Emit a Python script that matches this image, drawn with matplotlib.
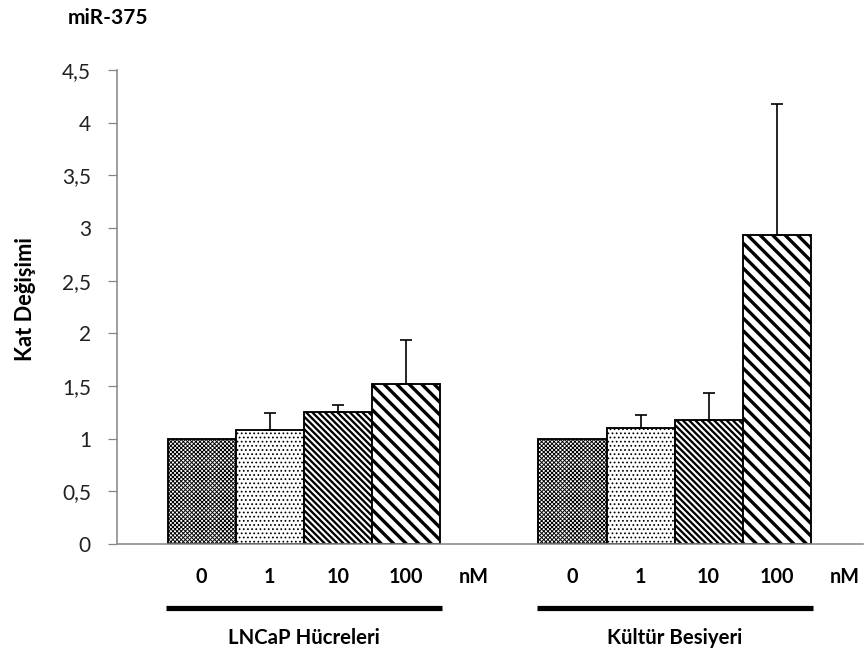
import numpy as np
import matplotlib
matplotlib.use("Agg")
import matplotlib.pyplot as plt

# data
doses = ["0", "1", "10", "100"]
groups = ["LNCaP Hücreleri", "Kültür Besiyeri"]
lncap_mean = [1.0, 1.08, 1.25, 1.52]
lncap_err = [0.0, 0.16, 0.07, 0.42]
medium_mean = [1.0, 1.10, 1.18, 2.93]
medium_err = [0.0, 0.12, 0.25, 1.25]
yticks = [0, 0.5, 1, 1.5, 2, 2.5, 3, 3.5, 4, 4.5]

hatches = ["xxxxxx", "...", "\\\\\\\\", "\\\\"]
hatch_lw = [0.9, 1.0, 2.2, 3.2]
group_start = [0.0, 5.45]

plt.rcParams["font.family"] = ["Lato", "DejaVu Sans"]
DPI = 75
fig = plt.figure(figsize=(867 / DPI, 660 / DPI), dpi=DPI)
ax = fig.add_axes([117 / 867, 116 / 660, (863 - 117) / 867, 474 / 660])

means = [lncap_mean, medium_mean]
errs = [lncap_err, medium_err]
for g in range(2):
    xs = group_start[g] + np.arange(len(doses))
    for i in range(len(doses)):
        plt.rcParams["hatch.linewidth"] = hatch_lw[i]
        ax.bar(xs[i], means[g][i], width=1.0, color="white", edgecolor="black",
               linewidth=1.8, hatch=hatches[i], zorder=2)
        if errs[g][i] > 0:
            ax.errorbar(xs[i], means[g][i], yerr=[[0], [errs[g][i]]], fmt="none",
                        ecolor="black", elinewidth=1.6, capsize=6, capthick=1.6,
                        zorder=3)

ax.set_xlim(-1.245, 9.72)
ax.set_ylim(0, 4.5)
ax.set_yticks(yticks)
ax.set_yticklabels([str(t).replace(".", ",") if t != int(t) else str(int(t)) for t in yticks])
ax.tick_params(axis="y", direction="out", length=9, width=1.2, color="#868686",
               labelsize=20, labelcolor="#222222", pad=16)
ax.set_xticks([])
for s in ["top", "right"]:
    ax.spines[s].set_visible(False)
for s in ["left", "bottom"]:
    ax.spines[s].set_color("#868686")
    ax.spines[s].set_linewidth(1.5)

tr = ax.get_xaxis_transform()
for g in range(2):
    x0 = group_start[g]
    for i, d in enumerate(doses):
        ax.text(x0 + i, -0.07, d, transform=tr, ha="center", va="center",
                fontsize=19, fontweight="bold", clip_on=False)
    ax.text(x0 + 4, -0.07, "nM", transform=tr, ha="center", va="center",
            fontsize=19, fontweight="bold", clip_on=False)
    ax.plot([x0 - 0.52, x0 + 3.53], [-0.135, -0.135], transform=tr, color="black",
            linewidth=5, clip_on=False, solid_capstyle="butt")
    ax.text(x0 + 1.5, -0.198, groups[g], transform=tr, ha="center", va="center",
            fontsize=19.5, fontweight="bold", clip_on=False)

fig.text(25 / 867, 1 - 299 / 660, "Kat Değişimi", rotation=90, ha="center",
         va="center", fontsize=21, fontweight="bold")
fig.text(68 / 867, 1 - 18 / 660, "miR-375", ha="left", va="center",
         fontsize=20, fontweight="bold")

fig.savefig("out.png", dpi=DPI)
